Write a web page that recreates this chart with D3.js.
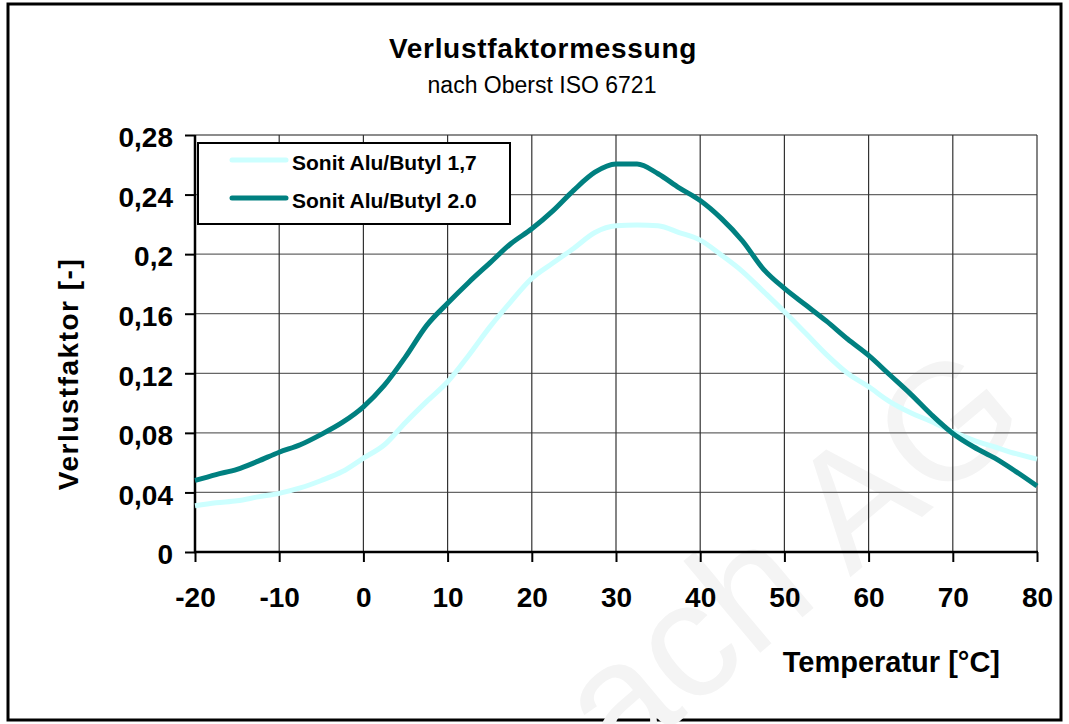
<!DOCTYPE html>
<html>
<head>
<meta charset="utf-8">
<script src="https://cdn.jsdelivr.net/npm/d3@7"></script>
<style>
  body { margin: 0; background: #fff; }
  svg text { font-family: Arial, "Liberation Sans", sans-serif; }
</style>
</head>
<body>
<svg id="graphe" width="1069" height="724"></svg>
<script>
var temperaturen = [-20,-17.5,-15,-12.5,-10,-7.5,-5,-2.5,0,2.5,5,7.5,10,12.5,15,17.5,20,22.5,25,27.5,30,32.5,35,37.5,40,42.5,45,47.5,50,52.5,55,57.5,60,62.5,65,67.5,70,72.5,75,77.5,80];
var butyl17 = [0.031,0.033,0.0344,0.037,0.0394,0.043,0.048,0.054,0.063,0.072,0.087,0.101,0.1143,0.132,0.151,0.168,0.1837,0.194,0.204,0.2145,0.219,0.2195,0.219,0.2145,0.2094,0.1995,0.1885,0.175,0.1613,0.147,0.1325,0.12,0.111,0.101,0.0935,0.0875,0.0807,0.075,0.0705,0.066,0.0624];
var butyl20 = [0.048,0.052,0.0555,0.061,0.067,0.072,0.079,0.087,0.0975,0.112,0.131,0.152,0.167,0.181,0.194,0.207,0.217,0.229,0.243,0.255,0.2605,0.2605,0.254,0.2445,0.236,0.224,0.209,0.19,0.177,0.166,0.155,0.143,0.132,0.119,0.106,0.092,0.0796,0.0705,0.063,0.054,0.0443];
var serien = ["Sonit Alu/Butyl 1,7", "Sonit Alu/Butyl 2.0"];
var farben = ["#ccffff", "#008080"];

var xTicks = [-20,-10,0,10,20,30,40,50,60,70,80];
var xLabels = ["-20","-10","0","10","20","30","40","50","60","70","80"];
var yTicks = [0,0.04,0.08,0.12,0.16,0.2,0.24,0.28];
var yLabels = ["0","0,04","0,08","0,12","0,16","0,2","0,24","0,28"];

var svg = d3.select("#graphe");

var x = d3.scaleLinear().domain([-20,80]).range([195,1037]);
var y = d3.scaleLinear().domain([0,0.28]).range([552,135]);

//-------------------rahmen + wasserzeichen----------------------------------------
svg.append("rect")
    .attr("x",8).attr("y",4).attr("width",1053).attr("height",716)
    .attr("fill","white").attr("stroke","black").attr("stroke-width",3);

svg.append("text")
    .attr("transform","translate(618,772) rotate(-40)")
    .attr("font-size",165)
    .attr("fill","#f4f4f4")
    .text("ach AG");

//-------------------gitter----------------------------------------
svg.selectAll(".hgrid").data(yTicks).enter().append("line")
    .attr("x1",x(-20)).attr("x2",x(80))
    .attr("y1",function(d){return y(d);}).attr("y2",function(d){return y(d);})
    .attr("stroke","#666").attr("stroke-width",1.3);

svg.selectAll(".vgrid").data(xTicks).enter().append("line")
    .attr("x1",function(d){return x(d);}).attr("x2",function(d){return x(d);})
    .attr("y1",y(0.28)).attr("y2",y(0))
    .attr("stroke","#333").attr("stroke-width",1.2);

//-------------------achsen----------------------------------------
var yAchse = svg.append("g")
    .attr("transform","translate(" + x(-20) + ",0)")
    .call(d3.axisLeft(y).tickValues(yTicks)
        .tickFormat(function(d,i){return yLabels[i];})
        .tickSize(10).tickPadding(12));

var xAchse = svg.append("g")
    .attr("transform","translate(0," + y(0) + ")")
    .call(d3.axisBottom(x).tickValues(xTicks)
        .tickFormat(function(d,i){return xLabels[i];})
        .tickSize(10).tickPadding(25));

[yAchse, xAchse].forEach(function(a){
    a.select(".domain").remove();
    a.selectAll(".tick line").attr("stroke","black").attr("stroke-width",2);
    a.selectAll(".tick text")
        .attr("font-family","Arial, 'Liberation Sans', sans-serif")
        .attr("font-size",28).attr("font-weight","bold").attr("fill","black");
});
yAchse.selectAll(".tick text").attr("dy","0.42em");

svg.append("line").attr("x1",x(-20)).attr("x2",x(-20))
    .attr("y1",y(0.28)).attr("y2",y(0)+1)
    .attr("stroke","black").attr("stroke-width",2.5);
svg.append("line").attr("x1",x(-20)-1).attr("x2",x(80)+1)
    .attr("y1",y(0)).attr("y2",y(0))
    .attr("stroke","black").attr("stroke-width",2.5);

//-------------------kurven----------------------------------------
var linie = d3.line()
    .x(function(d){return x(d[0]);})
    .y(function(d){return y(d[1]);})
    .curve(d3.curveMonotoneX);

[butyl17, butyl20].forEach(function(werte,i){
    svg.append("path")
        .attr("d", linie(d3.zip(temperaturen, werte)))
        .attr("fill","none")
        .attr("stroke",farben[i])
        .attr("stroke-width",5)
        .attr("stroke-linejoin","round");
});

//-------------------legende----------------------------------------
svg.append("rect")
    .attr("x",198).attr("y",143).attr("width",312).attr("height",81)
    .attr("fill","white").attr("stroke","black").attr("stroke-width",2);

serien.forEach(function(name,i){
    var ly = 160 + i*38;
    svg.append("line")
        .attr("x1",232).attr("x2",286).attr("y1",ly).attr("y2",ly)
        .attr("stroke",farben[i]).attr("stroke-width",5).attr("stroke-linecap","round");
    svg.append("text")
        .attr("x",292).attr("y",ly+10)
        .attr("font-size",21).attr("font-weight","bold")
        .text(name);
});

//-------------------titel----------------------------------------
svg.append("text")
    .attr("x",543).attr("y",58).attr("text-anchor","middle")
    .attr("font-size",28).attr("font-weight","bold")
    .attr("letter-spacing",0.7)
    .text("Verlustfaktormessung");
svg.append("text")
    .attr("x",542).attr("y",93).attr("text-anchor","middle")
    .attr("font-size",23)
    .text("nach Oberst ISO 6721");

svg.append("text")
    .attr("transform","translate(78,374) rotate(-90)")
    .attr("text-anchor","middle")
    .attr("font-size",28).attr("font-weight","bold")
    .attr("letter-spacing",1.5)
    .text("Verlustfaktor [-]");

svg.append("text")
    .attr("x",1000).attr("y",672).attr("text-anchor","end")
    .attr("font-size",29).attr("font-weight","bold")
    .text("Temperatur [°C]");
</script>
</body>
</html>
